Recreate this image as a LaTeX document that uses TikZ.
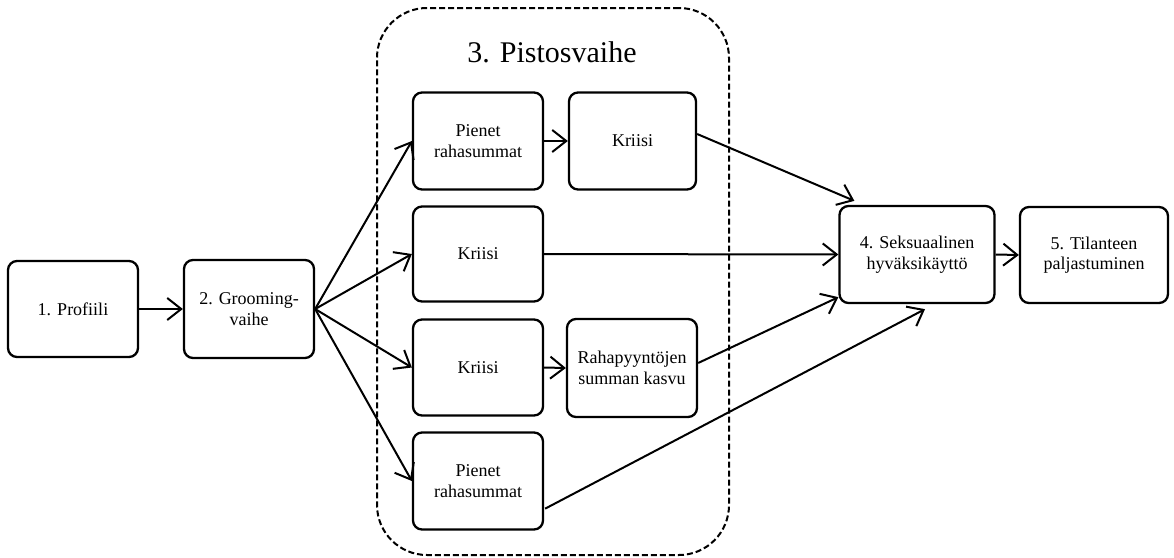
\documentclass[tikz,border=0pt]{standalone}
\usepackage{fontspec}
\setmainfont{Liberation Serif}
\usetikzlibrary{arrows.meta,calc}
\begin{document}
\begin{tikzpicture}[x=1pt,y=-1pt,
 box/.style={draw, line width=2.3pt, rounded corners=9pt, minimum width=130pt, minimum height=96pt,
   align=center, font=\fontsize{18}{20.5}\selectfont, inner sep=0pt},
 conn/.style={line width=2pt, -{Straight Barb[length=14pt,width=22pt,line width=2pt]}},
 phasebox/.style={draw, line width=2pt, dash pattern=on 6pt off 3pt, rounded corners=50pt,
   minimum width=352pt, minimum height=547pt, inner sep=0pt},
]
\useasboundingbox (0,0) rectangle (1174,557);
\node[phasebox] (phase) at (553,281.5) {};
\node[font=\fontsize{30}{34}\selectfont] (title) at (552,52) {3. Pistosvaihe};

\node[box] (p1) at (73,309) {1. Profiili};
\node[box, minimum height=98pt] (p2) at (249,309) {2. Grooming-\\vaihe};
\node[box, minimum height=97pt] (a1) at (478,141) {Pienet\\rahasummat};
\node[box, minimum width=127pt, minimum height=97pt] (k1) at (632.5,141) {Kriisi};
\node[box, minimum height=95pt] (k2) at (478,254) {Kriisi};
\node[box, minimum height=96pt] (k3) at (478,367.5) {Kriisi};
\node[box, minimum height=98pt] (r3) at (632,368) {Rahapyyntöjen\\summan kasvu};
\node[box, minimum height=97pt] (a4) at (478,481) {Pienet\\rahasummat};
\node[box, minimum width=155pt, minimum height=97pt] (s4) at (917,254.5) {4. Seksuaalinen\\hyväksikäyttö};
\node[box, minimum width=148pt, minimum height=96pt] (t5) at (1094,255) {5. Tilanteen\\paljastuminen};

\draw[conn] (p1.east) -- (p2.west);
\draw[conn] (p2.east) -- (a1.west);
\draw[conn] (p2.east) -- (k2.west);
\draw[conn] (p2.east) -- (k3.west);
\draw[conn] (p2.east) -- (a4.west);
\draw[conn] (a1.east) -- (k1.west);
\draw[conn] (k3.east) -- (r3.west);
\draw[conn] ($(k1.east)+(0,-7)$) -- ($(s4.north west)+(16,-4)$);
\draw[conn] (k2.east) -- (s4.west);
\draw[conn] ($(r3.east)+(0,-5)$) -- ($(s4.south west)+(0,-7)$);
\draw[conn] ($(a4.south east)+(1,-22)$) -- ($(s4.south)+(8,5)$);
\draw[conn] (s4.east) -- (t5.west);
\end{tikzpicture}
\end{document}
